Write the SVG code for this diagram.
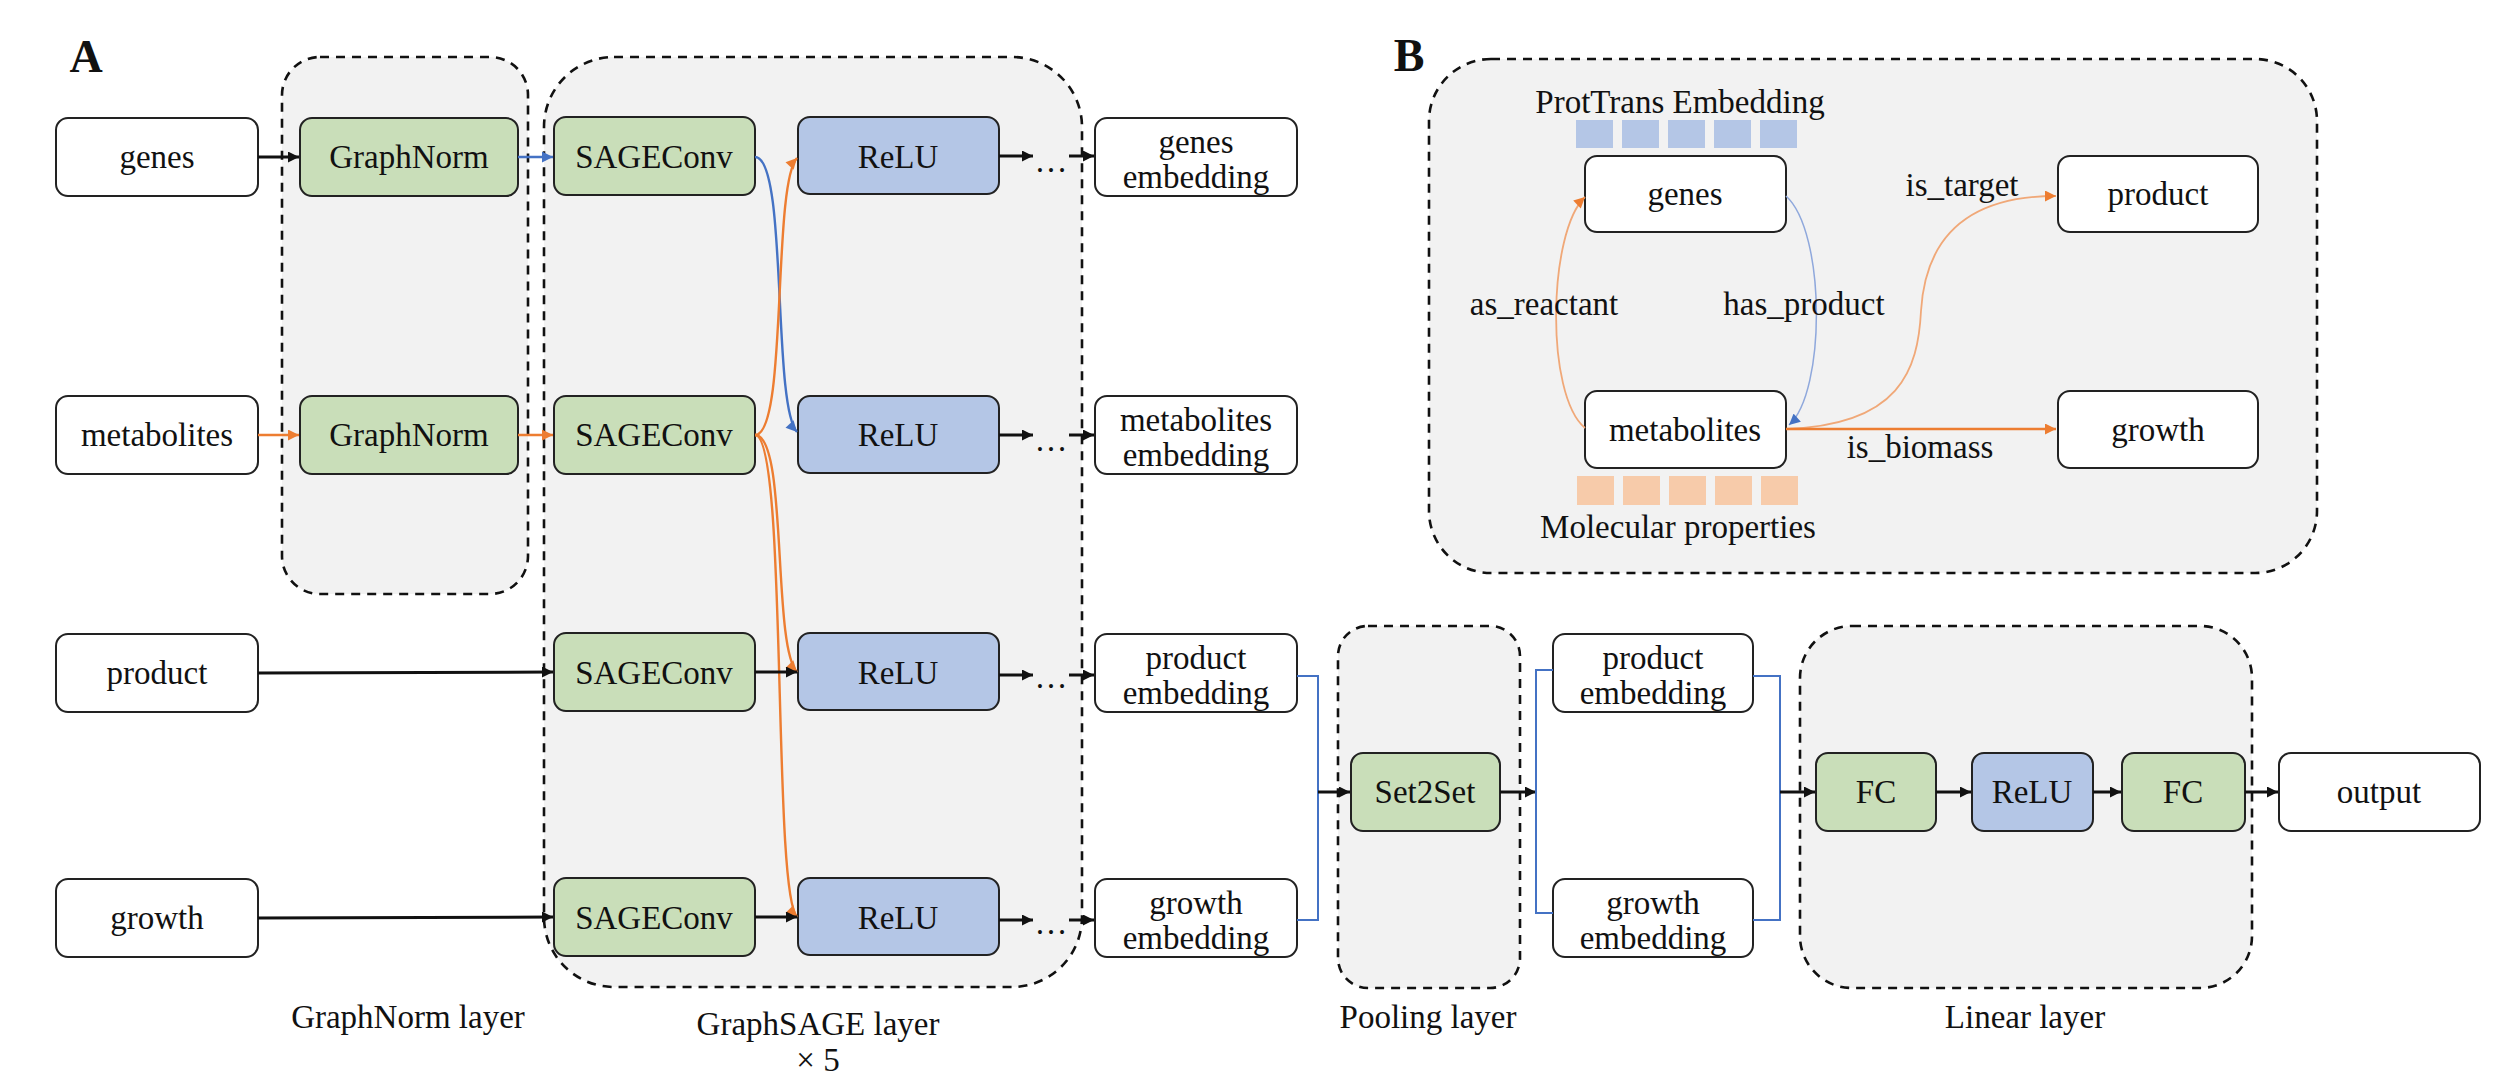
<svg xmlns="http://www.w3.org/2000/svg" width="2502" height="1090" viewBox="0 0 2502 1090">
<style>
text{font-family:"Liberation Serif","Times New Roman",serif;font-size:33px;fill:#111;text-anchor:middle}
.grp{fill:#F2F2F2;stroke:#111;stroke-width:2.6;stroke-dasharray:9 7}
.w{fill:#fff;stroke:#222;stroke-width:2}
.g{fill:#C9DEB9;stroke:#222;stroke-width:2}
.b{fill:#B4C6E6;stroke:#222;stroke-width:2}
.k{fill:none;stroke:#111;stroke-width:3}
.o{fill:none;stroke:#ED7D31;stroke-width:2.4}
.bl{fill:none;stroke:#4472C4;stroke-width:2.4}
.br{fill:none;stroke:#4472C4;stroke-width:2}
.lab{font-weight:bold;font-size:46px}
.sqb{fill:#B4C6E6}
.sqo{fill:#F7CBAA}
</style>
<defs>
<marker id="ak" viewBox="0 0 10 10" refX="10" refY="5" markerWidth="12" markerHeight="11" markerUnits="userSpaceOnUse" orient="auto"><path d="M0,0 L10,5 L0,10 z" fill="#111"/></marker>
<marker id="ao" viewBox="0 0 10 10" refX="10" refY="5" markerWidth="12" markerHeight="11" markerUnits="userSpaceOnUse" orient="auto"><path d="M0,0 L10,5 L0,10 z" fill="#ED7D31"/></marker>
<marker id="ab" viewBox="0 0 10 10" refX="10" refY="5" markerWidth="12" markerHeight="11" markerUnits="userSpaceOnUse" orient="auto"><path d="M0,0 L10,5 L0,10 z" fill="#4472C4"/></marker>
</defs>
<rect width="2502" height="1090" fill="#fff"/>

<!-- group containers -->
<g id="containers">
<rect id="graphnorm-layer" class="grp" x="282" y="57" width="246" height="537" rx="38" ry="38"/>
<rect id="graphsage-layer" class="grp" x="544" y="57" width="538" height="930" rx="70" ry="70"/>
<rect id="pooling-layer" class="grp" x="1338" y="626" width="182" height="362" rx="30" ry="30"/>
<rect id="linear-layer" class="grp" x="1800" y="626" width="452" height="362" rx="52" ry="52"/>
<rect id="panel-b" class="grp" x="1429" y="59" width="888" height="514" rx="62" ry="62"/>
</g>

<text class="lab" x="86" y="72">A</text>
<text class="lab" x="1409" y="71">B</text>

<!-- Panel A nodes -->
<g id="in-genes"><rect class="w" x="56" y="118" width="202" height="78" rx="12"/><text x="157" y="168">genes</text></g>
<g id="in-metabolites"><rect class="w" x="56" y="396" width="202" height="78" rx="12"/><text x="157" y="446">metabolites</text></g>
<g id="in-product"><rect class="w" x="56" y="634" width="202" height="78" rx="12"/><text x="157" y="684">product</text></g>
<g id="in-growth"><rect class="w" x="56" y="879" width="202" height="78" rx="12"/><text x="157" y="929">growth</text></g>

<g id="gn-genes"><rect class="g" x="300" y="118" width="218" height="78" rx="12"/><text x="409" y="168">GraphNorm</text></g>
<g id="gn-metabolites"><rect class="g" x="300" y="396" width="218" height="78" rx="12"/><text x="409" y="446">GraphNorm</text></g>

<g id="sc-genes"><rect class="g" x="554" y="117" width="201" height="78" rx="12"/><text x="654" y="168">SAGEConv</text></g>
<g id="sc-metabolites"><rect class="g" x="554" y="396" width="201" height="78" rx="12"/><text x="654" y="446">SAGEConv</text></g>
<g id="sc-product"><rect class="g" x="554" y="633" width="201" height="78" rx="12"/><text x="654" y="684">SAGEConv</text></g>
<g id="sc-growth"><rect class="g" x="554" y="878" width="201" height="78" rx="12"/><text x="654" y="929">SAGEConv</text></g>

<g id="relu-genes"><rect class="b" x="798" y="117" width="201" height="77" rx="12"/><text x="898" y="168">ReLU</text></g>
<g id="relu-metabolites"><rect class="b" x="798" y="396" width="201" height="77" rx="12"/><text x="898" y="446">ReLU</text></g>
<g id="relu-product"><rect class="b" x="798" y="633" width="201" height="77" rx="12"/><text x="898" y="684">ReLU</text></g>
<g id="relu-growth"><rect class="b" x="798" y="878" width="201" height="77" rx="12"/><text x="898" y="929">ReLU</text></g>

<g id="emb-genes"><rect class="w" x="1095" y="118" width="202" height="78" rx="12"/><text x="1196" y="153">genes</text><text x="1196" y="188">embedding</text></g>
<g id="emb-metabolites"><rect class="w" x="1095" y="396" width="202" height="78" rx="12"/><text x="1196" y="431">metabolites</text><text x="1196" y="466">embedding</text></g>
<g id="emb-product"><rect class="w" x="1095" y="634" width="202" height="78" rx="12"/><text x="1196" y="669">product</text><text x="1196" y="704">embedding</text></g>
<g id="emb-growth"><rect class="w" x="1095" y="879" width="202" height="78" rx="12"/><text x="1196" y="914">growth</text><text x="1196" y="949">embedding</text></g>

<g id="set2set"><rect class="g" x="1351" y="753" width="149" height="78" rx="12"/><text x="1425" y="803">Set2Set</text></g>

<g id="emb2-product"><rect class="w" x="1553" y="634" width="200" height="78" rx="12"/><text x="1653" y="669">product</text><text x="1653" y="704">embedding</text></g>
<g id="emb2-growth"><rect class="w" x="1553" y="879" width="200" height="78" rx="12"/><text x="1653" y="914">growth</text><text x="1653" y="949">embedding</text></g>

<g id="fc1"><rect class="g" x="1816" y="753" width="120" height="78" rx="12"/><text x="1876" y="803">FC</text></g>
<g id="relu-lin"><rect class="b" x="1972" y="753" width="121" height="78" rx="12"/><text x="2032" y="803">ReLU</text></g>
<g id="fc2"><rect class="g" x="2122" y="753" width="123" height="78" rx="12"/><text x="2183" y="803">FC</text></g>
<g id="output"><rect class="w" x="2279" y="753" width="201" height="78" rx="12"/><text x="2379" y="803">output</text></g>

<!-- layer labels -->
<g id="layer-labels">
<text x="408" y="1028">GraphNorm layer</text>
<text x="818" y="1035">GraphSAGE layer</text>
<text x="818" y="1071">× 5</text>
<text x="1428" y="1028">Pooling layer</text>
<text x="2025" y="1028">Linear layer</text>
</g>

<!-- Panel B nodes -->
<g id="b-genes"><rect class="w" x="1585" y="156" width="201" height="76" rx="12"/><text x="1685" y="205">genes</text></g>
<g id="b-product"><rect class="w" x="2058" y="156" width="200" height="76" rx="12"/><text x="2158" y="205">product</text></g>
<g id="b-metabolites"><rect class="w" x="1585" y="391" width="201" height="77" rx="12"/><text x="1685" y="441">metabolites</text></g>
<g id="b-growth"><rect class="w" x="2058" y="391" width="200" height="77" rx="12"/><text x="2158" y="441">growth</text></g>

<g id="prottrans">
<text x="1680" y="113">ProtTrans Embedding</text>
<rect class="sqb" x="1576" y="120" width="37" height="28"/>
<rect class="sqb" x="1622" y="120" width="37" height="28"/>
<rect class="sqb" x="1668" y="120" width="37" height="28"/>
<rect class="sqb" x="1714" y="120" width="37" height="28"/>
<rect class="sqb" x="1760" y="120" width="37" height="28"/>
</g>
<g id="molecular">
<rect class="sqo" x="1577" y="476" width="37" height="29"/>
<rect class="sqo" x="1623" y="476" width="37" height="29"/>
<rect class="sqo" x="1669" y="476" width="37" height="29"/>
<rect class="sqo" x="1715" y="476" width="37" height="29"/>
<rect class="sqo" x="1761" y="476" width="37" height="29"/>
<text x="1678" y="538">Molecular properties</text>
</g>

<!-- connectors -->
<g id="connectors">
<path class="k" d="M258,157 L299,157" marker-end="url(#ak)"/>
<path class="o" d="M258,435 L299,435" marker-end="url(#ao)"/>
<path class="bl" d="M518,157 L553,157" marker-end="url(#ab)"/>
<path class="o" d="M518,435 L553,435" marker-end="url(#ao)"/>
<path class="k" d="M258,673 L553,672" marker-end="url(#ak)"/>
<path class="k" d="M258,918 L553,917" marker-end="url(#ak)"/>

<path class="bl" d="M755,157 C788,157 772,405 797,432" marker-end="url(#ab)"/>
<path class="o" d="M755,435 C788,435 772,185 797,158" marker-end="url(#ao)"/>
<path class="o" d="M755,435 C788,435 772,646 797,672" marker-end="url(#ao)"/>
<path class="o" d="M755,435 C788,435 772,891 797,917" marker-end="url(#ao)"/>
<path class="k" d="M755,672 L797,672" marker-end="url(#ak)"/>
<path class="k" d="M755,917 L797,917" marker-end="url(#ak)"/>

<path class="k" d="M999,156 L1033,156" marker-end="url(#ak)"/>
<path class="k" d="M1069,156 L1094,156" marker-end="url(#ak)"/>
<path class="k" d="M999,435 L1033,435" marker-end="url(#ak)"/>
<path class="k" d="M1069,435 L1094,435" marker-end="url(#ak)"/>
<path class="k" d="M999,675 L1033,675" marker-end="url(#ak)"/>
<path class="k" d="M1069,675 L1094,675" marker-end="url(#ak)"/>
<path class="k" d="M999,920 L1033,920" marker-end="url(#ak)"/>
<path class="k" d="M1069,920 L1094,920" marker-end="url(#ak)"/>
<text x="1051" y="172">…</text>
<text x="1051" y="451">…</text>
<text x="1051" y="688">…</text>
<text x="1051" y="934">…</text>

<path class="br" d="M1297,676 L1318,676 L1318,920 L1297,920"/>
<path class="k" d="M1318,792 L1350,792" marker-end="url(#ak)"/>
<path class="k" d="M1500,792 L1536,792" marker-end="url(#ak)"/>
<path class="br" d="M1553,670 L1536,670 L1536,913 L1553,913"/>
<path class="br" d="M1753,676 L1780,676 L1780,920 L1753,920"/>
<path class="k" d="M1780,792 L1815,792" marker-end="url(#ak)"/>
<path class="k" d="M1936,792 L1971,792" marker-end="url(#ak)"/>
<path class="k" d="M2093,792 L2121,792" marker-end="url(#ak)"/>
<path class="k" d="M2245,792 L2278,792" marker-end="url(#ak)"/>

<!-- Panel B edges -->
<path d="M1585,428 C1545,395 1548,232 1585,197" fill="none" stroke="#F0A878" stroke-width="1.8" marker-end="url(#ao)"/>
<path d="M1786,196 C1826,232 1826,392 1789,425" fill="none" stroke="#8FA8DC" stroke-width="1.5" marker-end="url(#ab)"/>
<path d="M1786,429 C1900,425 1918,370 1921,311 C1925,245 1960,196 2056,196" fill="none" stroke="#F0A878" stroke-width="1.8" marker-end="url(#ao)"/>
<path d="M1786,429 L2056,429" fill="none" stroke="#ED7D31" stroke-width="2.6" marker-end="url(#ao)"/>
<text x="1544" y="315">as_reactant</text>
<text x="1804" y="315">has_product</text>
<text x="1962" y="196">is_target</text>
<text x="1920" y="458">is_biomass</text>
</g>
</svg>
